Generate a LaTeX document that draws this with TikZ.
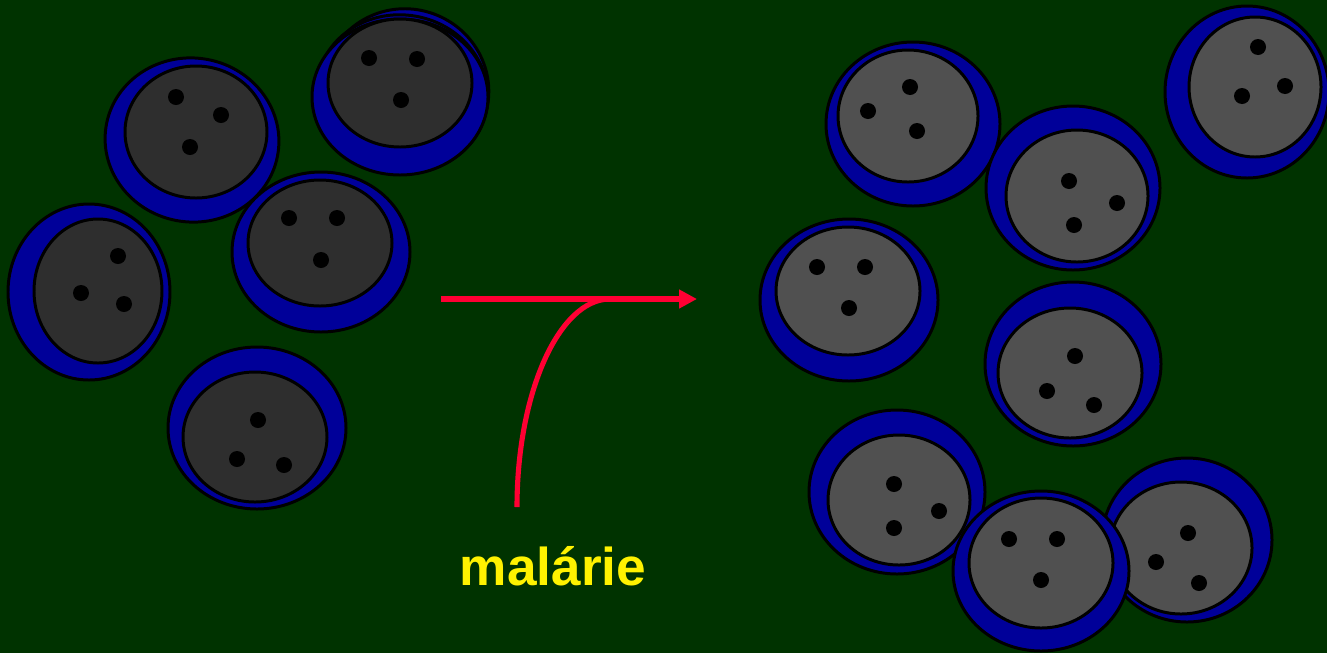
\documentclass[tikz,border=0pt]{standalone}
\usepackage{fontspec}
\setmainfont{Liberation Sans}
\usepackage{tikz}
\usetikzlibrary{arrows.meta}

\definecolor{bgreen}{HTML}{003300}
\definecolor{cellblue}{HTML}{000099}
\definecolor{darkcore}{HTML}{2E2E2E}
\definecolor{lightcore}{HTML}{505050}
\definecolor{arrowred}{HTML}{FF0033}

% one cell: outer centre, outer radii, inner centre, inner radii, core colour, dots
\newcommand{\drawcell}[6]{%
    \filldraw[cellline, fill=cellblue] (#1) ellipse [#2];
    \filldraw[cellline, fill=#5] (#3) ellipse [#4];
    \foreach \p in {#6} \fill \p circle (8);
}

\begin{document}
\begin{tikzpicture}[x=0.02cm, y=-0.02cm,
    cellline/.style={draw=black, line width=1.7pt},
    redline/.style={draw=arrowred, line width=2.9pt}]
    % Background
    \fill[bgreen] (0,0) rectangle (1327,653);
    \useasboundingbox (0,0) rectangle (1327,653);

    % Cells before
    \drawcell{192,140}{x radius=87, y radius=82, rotate=-8}{196,132}{x radius=71, y radius=66}{darkcore}{(176,97), (221,115), (190,147)}
    \filldraw[cellline, fill=cellblue] (406,90) ellipse [x radius=83, y radius=81, rotate=-20];
    \filldraw[cellline, fill=cellblue] (402,94) ellipse [x radius=86, y radius=79, rotate=-10];
    \drawcell{400,97}{x radius=88, y radius=78}{400,83}{x radius=72, y radius=64}{darkcore}{(369,58), (417,59), (401,100)}
    \drawcell{321,252}{x radius=89, y radius=80}{320,243}{x radius=72, y radius=63}{darkcore}{(289,218), (337,218), (321,260)}
    \drawcell{89,292}{x radius=81, y radius=88}{98,291}{x radius=64, y radius=72}{darkcore}{(118,256), (81,293), (124,304)}
    \drawcell{257,428}{x radius=89, y radius=81}{255,437}{x radius=72, y radius=65}{darkcore}{(258,420), (237,459), (284,465)}

    % Cells after
    \drawcell{913,124}{x radius=87, y radius=82}{908,116}{x radius=70, y radius=66}{lightcore}{(910,87), (868,111), (917,131)}
    \drawcell{1247,92}{x radius=82, y radius=86}{1255,87}{x radius=66, y radius=70}{lightcore}{(1258,47), (1285,86), (1242,96)}
    \drawcell{1073,188}{x radius=87, y radius=82}{1077,196}{x radius=71, y radius=66}{lightcore}{(1069,181), (1117,203), (1074,225)}
    \drawcell{849,300}{x radius=89, y radius=81}{848,291}{x radius=72, y radius=64}{lightcore}{(817,267), (865,267), (849,308)}
    \drawcell{1073,364}{x radius=88, y radius=82}{1070,373}{x radius=72, y radius=65}{lightcore}{(1075,356), (1047,391), (1094,405)}
    \drawcell{897,492}{x radius=88, y radius=82}{899,500}{x radius=71, y radius=65}{lightcore}{(894,484), (939,511), (894,528)}
    \drawcell{1187,540}{x radius=85, y radius=82}{1181,548}{x radius=71, y radius=66}{lightcore}{(1188,533), (1156,562), (1199,583)}
    \drawcell{1041,571}{x radius=88, y radius=80}{1041,563}{x radius=72, y radius=65}{lightcore}{(1009,539), (1057,539), (1041,580)}

    % Arrow and label
    \coordinate (start) at (441,299);
    \coordinate (end) at (697,299);
    \coordinate (join) at (610,299);
    \coordinate (foot) at (517,507);
    \node[text=yellow, font=\bfseries\fontsize{30.3}{31}\selectfont, anchor=base] (label) at (553,585) {malárie};

    \draw[redline, -{Triangle[length=0.36cm, width=0.36cm]}] (start) -- (end);
    \draw[redline] (foot) .. controls (517,393) and (559,299) .. (join);
\end{tikzpicture}
\end{document}
